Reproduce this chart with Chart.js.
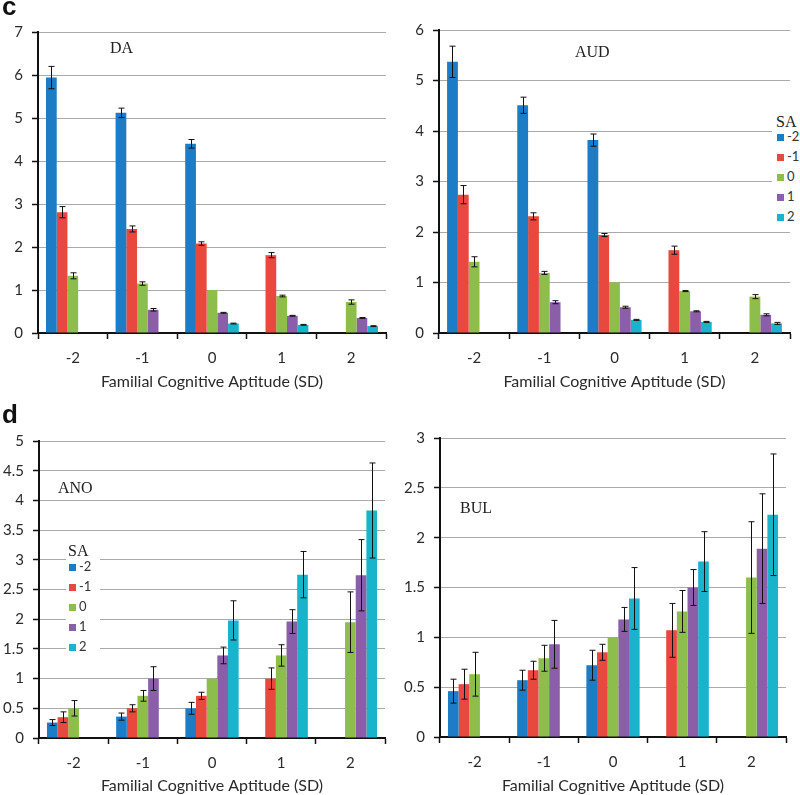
<!DOCTYPE html>
<html>
<head>
<meta charset="utf-8">
<script src="https://cdn.jsdelivr.net/npm/chart.js@4.4.0/dist/chart.umd.min.js"></script>
<style>
  body { margin: 0; background: #fff; }
  #page { position: relative; width: 800px; height: 795px; overflow: hidden; }
  canvas { position: absolute; }
  .letter { position: absolute; font: bold 26px "Liberation Sans", Arial, sans-serif; line-height: 26px; color: #111; }
  .tag { position: absolute; font: 16px "Liberation Serif", serif; line-height: 16px; color: #222; }
  .legend { position: absolute; background: #fff; }
  .legend .head { position: absolute; font: 16px "Liberation Serif", serif; line-height: 16px; color: #222; }
  .legend .sw { position: absolute; width: 7px; height: 7px; }
  .legend .lab { position: absolute; font: 13px Lato, sans-serif; line-height: 13px; color: #333; }
</style>
</head>
<body>
<div id="page">
  <canvas id="cDA" width="400" height="395" style="left:0;top:0"></canvas>
  <canvas id="cAUD" width="400" height="395" style="left:400px;top:0"></canvas>
  <canvas id="cANO" width="400" height="395" style="left:0;top:400px"></canvas>
  <canvas id="cBUL" width="400" height="395" style="left:400px;top:400px"></canvas>

  <div class="letter" style="left:2px;top:-7px">c</div>
  <div class="letter" style="left:2px;top:401px">d</div>
  <div class="tag" style="left:110px;top:40px">DA</div>
  <div class="tag" style="left:575px;top:44px">AUD</div>
  <div class="tag" style="left:58px;top:480px">ANO</div>
  <div class="tag" style="left:460px;top:500px">BUL</div>

  <div class="legend" id="legAUD" style="left:772px;top:112px;width:28px;height:113px"></div>
  <div class="legend" id="legANO" style="left:66px;top:540px;width:34px;height:115px"></div>
</div>

<script>
// categories on the x axis and the SA series
var categories = ['-2', '-1', '0', '1', '2'];
var saLabels = ['-2', '-1', '0', '1', '2'];
var saColors = ['#1c7cc6', '#e8483e', '#8dbd4b', '#8a5ea8', '#19b4cc'];
var xTitle = 'Familial Cognitive Aptitude (SD)';

// DA: one row per SA level
var daMeans = [
  [5.94, 5.12, 4.40, null, null],
  [2.81, 2.42, 2.08, 1.81, null],
  [1.33, 1.15, 1.00, 0.86, 0.72],
  [null, 0.54, 0.47, 0.40, 0.35],
  [null, null, 0.22, 0.19, 0.16]
];
var daErrors = [
  [0.26, 0.11, 0.10, 0, 0],
  [0.13, 0.07, 0.04, 0.06, 0],
  [0.07, 0.04, 0, 0.02, 0.05],
  [0, 0.03, 0.01, 0.01, 0.01],
  [0, 0, 0.01, 0.01, 0.01]
];

// AUD
var audMeans = [
  [5.37, 4.51, 3.82, null, null],
  [2.74, 2.31, 1.94, 1.64, null],
  [1.41, 1.19, 1.00, 0.83, 0.72],
  [null, 0.61, 0.51, 0.43, 0.36],
  [null, null, 0.26, 0.22, 0.19]
];
var audErrors = [
  [0.31, 0.16, 0.12, 0, 0],
  [0.18, 0.07, 0.03, 0.08, 0],
  [0.10, 0.03, 0, 0.01, 0.04],
  [0, 0.03, 0.02, 0.01, 0.02],
  [0, 0, 0.01, 0.01, 0.02]
];

// ANO
var anoMeans = [
  [0.26, 0.36, 0.50, null, null],
  [0.35, 0.50, 0.71, 1.00, null],
  [0.50, 0.71, 1.00, 1.39, 1.95],
  [null, 1.00, 1.39, 1.96, 2.74],
  [null, null, 1.98, 2.75, 3.83]
];
var anoErrors = [
  [0.05, 0.06, 0.10, 0, 0],
  [0.09, 0.06, 0.06, 0.18, 0],
  [0.13, 0.09, 0, 0.18, 0.51],
  [0, 0.20, 0.14, 0.20, 0.60],
  [0, 0, 0.33, 0.39, 0.80]
];

// BUL
var bulMeans = [
  [0.46, 0.57, 0.72, null, null],
  [0.53, 0.67, 0.85, 1.07, null],
  [0.63, 0.79, 1.00, 1.26, 1.60],
  [null, 0.93, 1.18, 1.50, 1.89],
  [null, null, 1.39, 1.76, 2.23]
];
var bulErrors = [
  [0.12, 0.10, 0.15, 0, 0],
  [0.15, 0.09, 0.08, 0.27, 0],
  [0.22, 0.13, 0, 0.21, 0.56],
  [0, 0.24, 0.12, 0.18, 0.55],
  [0, 0, 0.31, 0.30, 0.61]
];

// error bars drawn from the y scale
var errorBars = {
  id: 'errorBars',
  afterDatasetsDraw: function (chart) {
    var ctx = chart.ctx;
    var y = chart.scales.y;
    ctx.save();
    ctx.strokeStyle = '#111';
    ctx.lineWidth = 1;
    chart.data.datasets.forEach(function (ds, i) {
      var meta = chart.getDatasetMeta(i);
      meta.data.forEach(function (bar, j) {
        var v = ds.data[j];
        var e = ds.errors[j];
        if (v == null || !e) return;
        var x = Math.round(bar.x) + 0.5;
        var top = y.getPixelForValue(v + e);
        var bot = y.getPixelForValue(v - e);
        ctx.beginPath();
        ctx.moveTo(x, top); ctx.lineTo(x, bot);
        ctx.moveTo(x - 3, top); ctx.lineTo(x + 3, top);
        ctx.moveTo(x - 3, bot); ctx.lineTo(x + 3, bot);
        ctx.stroke();
      });
    });
    ctx.restore();
  }
};

function drawPanel(id, means, errors, yMax, yStep, box) {
  var datasets = saLabels.map(function (lab, i) {
    return {
      label: lab,
      data: means[i],
      errors: errors[i],
      backgroundColor: saColors[i],
      borderWidth: 0,
      categoryPercentage: 0.77,
      barPercentage: 1.0
    };
  });
  return new Chart(document.getElementById(id), {
    type: 'bar',
    data: { labels: categories, datasets: datasets },
    plugins: [errorBars],
    options: {
      responsive: false,
      animation: false,
      layout: { padding: { top: box.padTop, right: box.padRight, left: 0, bottom: 0 } },
      plugins: { legend: { display: false }, tooltip: { enabled: false } },
      scales: {
        x: {
          afterFit: function (s) { s.height = box.xHeight; },
          grid: { drawOnChartArea: false, offset: true, tickLength: 6, tickColor: '#111', tickWidth: 1.5 },
          border: { color: '#111', width: 2 },
          ticks: { color: '#2a2a2a', font: { family: 'Lato', size: 15 }, padding: 10, maxRotation: 0 },
          title: { display: true, text: xTitle, color: '#2a2a2a', font: { family: 'Lato', size: 16 },
                   padding: { top: 0, bottom: box.titlePad } }
        },
        y: {
          min: 0, max: yMax,
          afterFit: function (s) { s.width = box.axisWidth; },
          grid: { color: '#aaaaaa', lineWidth: 1, tickLength: 6, tickColor: '#111', tickWidth: 1.5 },
          border: { color: '#111', width: 2 },
          ticks: {
            stepSize: yStep, color: '#2a2a2a', padding: 9,
            font: { family: 'Lato', size: 15 },
            callback: function (v) { return String(+v.toFixed(2)); }
          }
        }
      }
    }
  });
}

drawPanel('cDA', daMeans, daErrors, 7, 1, { axisWidth: 38, xHeight: 62, padTop: 32, padRight: 14, titlePad: 4 });
drawPanel('cAUD', audMeans, audErrors, 6, 1, { axisWidth: 39, xHeight: 62, padTop: 30, padRight: 10, titlePad: 4 });
drawPanel('cANO', anoMeans, anoErrors, 5, 0.5, { axisWidth: 39, xHeight: 57, padTop: 41, padRight: 15, titlePad: 0 });
drawPanel('cBUL', bulMeans, bulErrors, 3, 0.5, { axisWidth: 40, xHeight: 58, padTop: 38, padRight: 14, titlePad: 0 });

// legends built from the SA series
function buildLegend(id, headTop, firstY, swLeft) {
  var el = document.getElementById(id);
  var h = document.createElement('div');
  h.className = 'head';
  h.textContent = 'SA';
  h.style.left = (swLeft - 1) + 'px';
  h.style.top = headTop + 'px';
  el.appendChild(h);
  saLabels.forEach(function (lab, i) {
    var sw = document.createElement('div');
    sw.className = 'sw';
    sw.style.background = saColors[i];
    sw.style.left = swLeft + 'px';
    sw.style.top = (firstY + i * 20 - 3) + 'px';
    el.appendChild(sw);
    var t = document.createElement('div');
    t.className = 'lab';
    t.textContent = lab;
    t.style.left = (swLeft + 10) + 'px';
    t.style.top = (firstY + i * 20 - 7) + 'px';
    el.appendChild(t);
  });
}
buildLegend('legAUD', 2, 25, 5);
buildLegend('legANO', 3, 27, 3);
</script>
</body>
</html>
